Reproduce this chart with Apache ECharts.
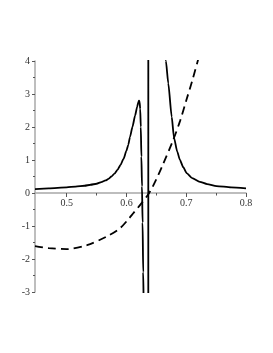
<!DOCTYPE html>
<html><head><meta charset="utf-8">
<script src="https://cdn.jsdelivr.net/npm/echarts@6/dist/echarts.min.js"></script>
<style>html,body{margin:0;padding:0;background:#fff}#c{width:273px;height:353px}</style>
</head><body><div id="c"></div>
<script>
var xMajorTicks = [0.5, 0.6, 0.7, 0.8];
var xMinorTicks = [0.55, 0.65, 0.75];
var yMajorTicks = [-3, -2, -1, 0, 1, 2, 3, 4];
var yMinorTicks = [-2.5, -1.5, -0.5, 0.5, 1.5, 2.5, 3.5];
var yMin = -3, yMax = 4;

var solidX = [0.447,0.47,0.5,0.515,0.53,0.54,0.55,0.558,0.565,0.57,0.575,0.58,0.585,0.59,0.595,0.6,0.603,0.606,0.61,0.6145,0.618,0.62,0.621,0.622,0.623,0.624,0.625,0.626,0.627,0.628,0.629,0.631,0.634,0.6365,0.6366,0.64,0.645,0.65,0.655,0.66,0.666,0.67,0.6757,0.6795,0.685,0.6895,0.695,0.7007,0.71,0.7228,0.735,0.7507,0.775,0.8];
var solidY = [0.12,0.14,0.17,0.195,0.22,0.25,0.28,0.33,0.38,0.43,0.5,0.59,0.7,0.85,1.03,1.28,1.46,1.7,2.0,2.35,2.62,2.76,2.8,2.76,2.55,2.0,1.1,0.2,-0.9,-2.4,-3.6,-6,-15,-60,60,25,12,8,6,4.9,4.0,3.32,2.31,1.68,1.25,1.0,0.78,0.6,0.45,0.34,0.27,0.21,0.17,0.14];

var dashX = [0.447,0.47,0.5,0.534,0.567,0.589,0.603,0.612,0.623,0.638,0.65,0.66,0.678,0.69,0.7,0.71,0.72];
var dashY = [-1.61,-1.67,-1.70,-1.58,-1.32,-1.07,-0.8,-0.6,-0.36,0,0.42,0.82,1.6,2.2,2.8,3.4,4.05];

function pairs(xs, ys){ return xs.map(function(x,i){return [x, ys[i]];}); }

var W = 273, H = 353, gTop = 61, gBottom = 61;
var gridH = H - gTop - gBottom;
var zeroOffset = -gridH * (0 - yMin) / (yMax - yMin);

var axisCol = '#a8a8a8';
var lblStyle = {fontFamily:'Liberation Serif', fontSize:10, color:'#333'};
var chart = echarts.init(document.getElementById('c'), null, {renderer:'canvas'});
chart.setOption({
  animation:false,
  grid:{left:35, right:27, top:gTop, bottom:gBottom},
  xAxis:[{
    type:'value', min:0.447, max:0.8, position:'bottom', offset:zeroOffset,
    axisLine:{show:true, onZero:false, lineStyle:{color:axisCol, width:1.5}},
    axisTick:{show:true, length:4, customValues:xMajorTicks, lineStyle:{color:'#555'}},
    axisLabel:Object.assign({customValues:xMajorTicks, margin:5, formatter:function(v){return String(v);}}, lblStyle),
    splitLine:{show:false}
  },{
    type:'value', min:0.447, max:0.8, position:'bottom', offset:zeroOffset,
    axisLine:{show:false, onZero:false},
    axisTick:{show:true, length:2.5, customValues:xMinorTicks, lineStyle:{color:'#555'}},
    axisLabel:{show:false},
    splitLine:{show:false}
  }],
  yAxis:[{
    type:'value', min:yMin, max:yMax,
    axisLine:{show:true, onZero:false, lineStyle:{color:axisCol, width:1.5}},
    axisTick:{show:true, length:3, customValues:yMajorTicks, lineStyle:{color:'#555'}},
    axisLabel:Object.assign({customValues:yMajorTicks, margin:5}, lblStyle),
    splitLine:{show:false}
  },{
    type:'value', min:yMin, max:yMax, position:'left',
    axisLine:{show:false, onZero:false},
    axisTick:{show:true, length:2, customValues:yMinorTicks, lineStyle:{color:'#555'}},
    axisLabel:{show:false},
    splitLine:{show:false}
  }],
  series:[{
    type:'line', data:pairs(solidX, solidY), showSymbol:false, symbol:'none',
    lineStyle:{color:'#000', width:1.8}, clip:true, smooth:0.2, smoothMonotone:'x'
  },{
    type:'line', data:pairs(dashX, dashY), showSymbol:false, symbol:'none',
    lineStyle:{color:'#000', width:1.8, type:[8,5]}, clip:true, smooth:0.3
  }]
});
</script></body></html>
